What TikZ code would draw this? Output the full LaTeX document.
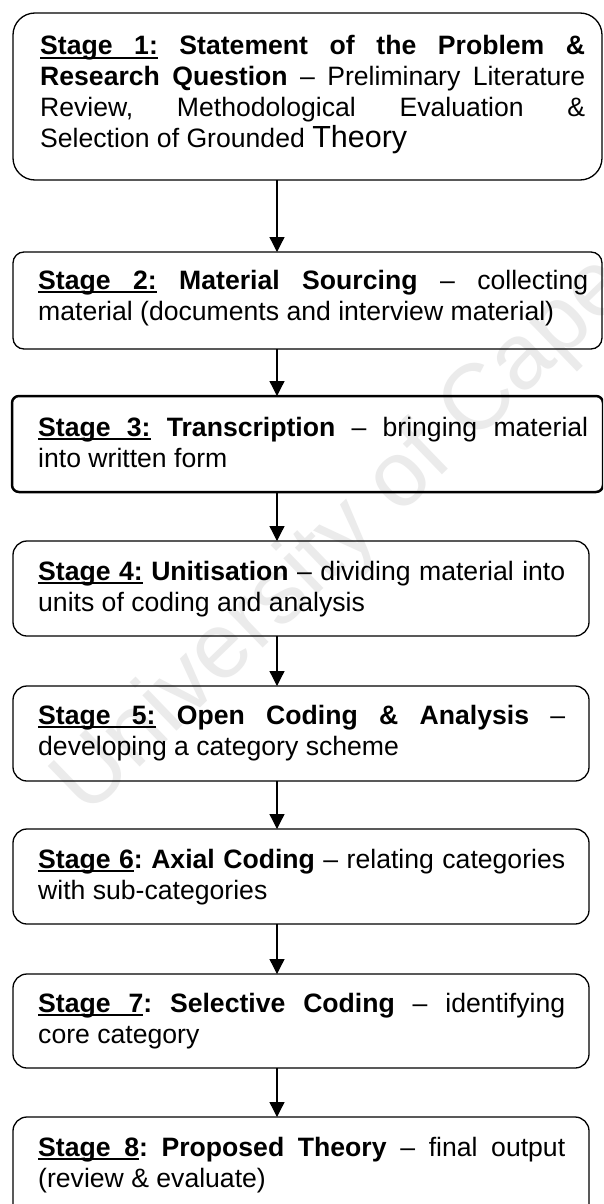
\documentclass[tikz,border=0pt]{standalone}
\usepackage{fontspec}
\setmainfont{Liberation Sans}
\usetikzlibrary{arrows.meta}
\hyphenpenalty=10000
\exhyphenpenalty=10000
\tolerance=10000
\hbadness=10000
\frenchspacing
\newcommand{\ulbox}[1]{\setbox0=\hbox{#1}\rlap{\vrule width\wd0 height -2.4pt depth 4.2pt}\box0}
\newcommand{\ulspace}{\leaders\hrule height -2.4pt depth 4.2pt\hskip\fontdimen2\font plus\fontdimen3\font minus\fontdimen4\font}
\newcommand{\stagelbl}[1]{\textbf{\ulbox{Stage}\ulspace\ulbox{#1}}}
\tikzset{
  stagebox/.style={draw, line width=1.3pt, rectangle, anchor=north west,
    inner sep=0pt, outer sep=0pt, rounded corners=14pt},
  stagetext/.style={anchor=base west, inner sep=0pt, text width=#1, align=justify,
    font=\fontsize{26.6}{31}\selectfont},
  flow/.style={line width=1.3pt, -{Triangle[length=15pt,width=15pt]}},
  wmark/.style={rotate=44, anchor=base west, inner sep=0pt, text=black!8,
    font=\fontsize{93}{93}\selectfont},
}
\begin{document}
\begin{tikzpicture}[x=1pt,y=1pt]
\useasboundingbox (0,0) rectangle (603,-1204);
\clip (0,0) rectangle (603,-1204);
\fill[white] (0,0) rectangle (603,-1204);
\node[wmark] (wm) at (87,-818) {University of Cape Town};
\coordinate (ax) at (277,0);
% boxes
\node[stagebox, rounded corners=22pt, minimum width=589pt, minimum height=167pt] (b1) at (13,-13) {};
\node[stagebox, rounded corners=11pt, minimum width=589pt, minimum height=97pt] (b2) at (13,-252) {};
\node[stagebox, rounded corners=7pt, line width=2.5pt, minimum width=591pt, minimum height=96pt] (b3) at (12,-396) {};
\node[stagebox, minimum width=576pt, minimum height=95pt] (b4) at (13,-541) {};
\node[stagebox, minimum width=576pt, minimum height=95pt] (b5) at (13,-686) {};
\node[stagebox, minimum width=576pt, minimum height=95pt] (b6) at (13,-829) {};
\node[stagebox, minimum width=576pt, minimum height=94pt] (b7) at (13,-974) {};
\node[stagebox, minimum width=576pt, minimum height=130pt] (b8) at (13,-1117) {};
% texts
\node[stagetext=545pt] (t1) at (40,-55) {\stagelbl{1:} \textbf{Statement of the Problem \& \linebreak Research Question} -- Preliminary Literature \linebreak Review, Methodological Evaluation \& \linebreak Selection of Grounded {\fontsize{30.5}{31}\selectfont Theory}};
\node[stagetext=550pt] (t2) at (38,-289) {\stagelbl{2:} \textbf{Material Sourcing} -- collecting \linebreak material (documents and interview material)};
\node[stagetext=550pt] (t3) at (38,-436) {\stagelbl{3:} \textbf{Transcription} -- bringing material \linebreak into written form};
\node[stagetext=527pt] (t4) at (38,-580) {\stagelbl{4:} \textbf{Unitisation} -- dividing material into \linebreak units of coding and analysis};
\node[stagetext=527pt] (t5) at (38,-724) {\stagelbl{5:} \textbf{Open Coding \& Analysis} -- \linebreak developing a category scheme};
\node[stagetext=527pt] (t6) at (38,-868) {\stagelbl{6}\textbf{:} \textbf{Axial Coding} -- relating categories \linebreak with sub-categories};
\node[stagetext=527pt] (t7) at (38,-1012) {\stagelbl{7}\textbf{:} \textbf{Selective Coding} -- identifying \linebreak core category};
\node[stagetext=527pt] (t8) at (38,-1156) {\stagelbl{8}\textbf{:} \textbf{Proposed Theory} -- final output \linebreak (review \& evaluate)};
% arrows
\draw[flow] (b1.south -| ax) -- (b2.north -| ax);
\draw[flow] (b2.south -| ax) -- (b3.north -| ax);
\draw[flow] (b3.south -| ax) -- (b4.north -| ax);
\draw[flow] (b4.south -| ax) -- (b5.north -| ax);
\draw[flow] (b5.south -| ax) -- (b6.north -| ax);
\draw[flow] (b6.south -| ax) -- (b7.north -| ax);
\draw[flow] (b7.south -| ax) -- (b8.north -| ax);
\end{tikzpicture}
\end{document}
